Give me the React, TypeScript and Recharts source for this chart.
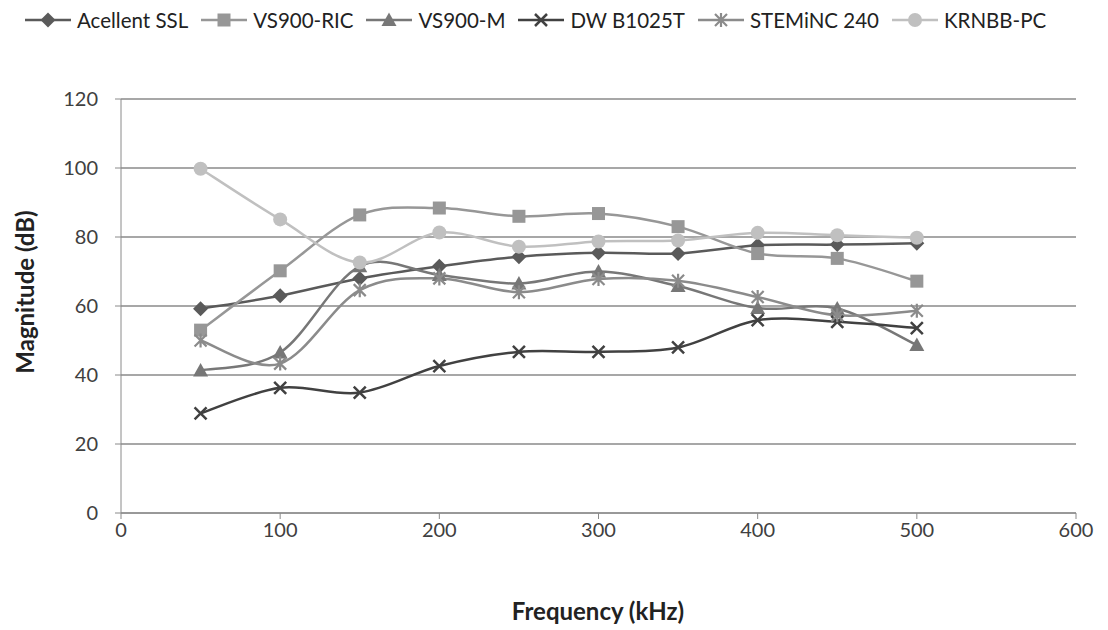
import { LineChart, Line, XAxis, YAxis, CartesianGrid, Label } from 'recharts'

const freqs = [50, 100, 150, 200, 250, 300, 350, 400, 450, 500]
const acellent = [59.2, 63, 68, 71.5, 74.3, 75.4, 75.2, 77.6, 77.8, 78.2]
const vs900ric = [53, 70.2, 86.4, 88.4, 86, 86.8, 83, 75.2, 73.8, 67.2]
const vs900m = [41.3, 46.5, 71.5, 69, 66.5, 70, 65.8, 59.4, 59.3, 48.7]
const dwb1025t = [28.9, 36.3, 34.9, 42.6, 46.7, 46.7, 48, 55.9, 55.4, 53.6]
const steminc = [50, 43.3, 64.6, 68, 64, 67.8, 67.3, 62.6, 57.3, 58.6]
const krnbb = [99.8, 85.1, 72.6, 81.3, 77.2, 78.7, 79, 81.2, 80.5, 79.8]
const xTicks = [0, 100, 200, 300, 400, 500, 600]
const yTicks = [0, 20, 40, 60, 80, 100, 120]

const data = freqs.map((f, i) => ({
  f, acellent: acellent[i], vs900ric: vs900ric[i], vs900m: vs900m[i],
  dwb1025t: dwb1025t[i], steminc: steminc[i], krnbb: krnbb[i],
}))

const series = [
  { key: 'acellent', name: 'Acellent SSL', color: '#5a5a5a', shape: 'diamond' },
  { key: 'vs900ric', name: 'VS900-RIC', color: '#979797', shape: 'square' },
  { key: 'vs900m', name: 'VS900-M', color: '#777777', shape: 'triangle' },
  { key: 'dwb1025t', name: 'DW B1025T', color: '#414141', shape: 'x' },
  { key: 'steminc', name: 'STEMiNC 240', color: '#8b8b8b', shape: 'star' },
  { key: 'krnbb', name: 'KRNBB-PC', color: '#c0c0c0', shape: 'circle' },
]

const FONT = "Lato, 'Open Sans', sans-serif"

// excel-like smoothing (catmull-rom style bezier)
function smoothCurve(context: any) {
  let pts: number[][] = []
  return {
    areaStart() {}, areaEnd() {},
    lineStart() { pts = [] },
    point(x: number, y: number) { pts.push([+x, +y]) },
    lineEnd() {
      if (!pts.length) return
      context.moveTo(pts[0][0], pts[0][1])
      for (let i = 0; i < pts.length - 1; i++) {
        const p0 = pts[i - 1] || pts[i], p1 = pts[i], p2 = pts[i + 1], p3 = pts[i + 2] || pts[i + 1]
        context.bezierCurveTo(
          p1[0] + (p2[0] - p0[0]) / 6, p1[1] + (p2[1] - p0[1]) / 6,
          p2[0] - (p3[0] - p1[0]) / 6, p2[1] - (p3[1] - p1[1]) / 6,
          p2[0], p2[1])
      }
    },
  }
}

function Marker({ cx, cy, shape, color }: any) {
  if (cx == null || cy == null) return null
  switch (shape) {
    case 'diamond':
      return <path d={`M${cx},${cy - 7.5}L${cx + 7.5},${cy}L${cx},${cy + 7.5}L${cx - 7.5},${cy}Z`} fill={color} />
    case 'square':
      return <rect x={cx - 6.5} y={cy - 6.5} width={13} height={13} fill={color} />
    case 'triangle':
      return <path d={`M${cx},${cy - 7.5}L${cx + 7.5},${cy + 6}L${cx - 7.5},${cy + 6}Z`} fill={color} />
    case 'circle':
      return <circle cx={cx} cy={cy} r={7} fill={color} />
    case 'x':
      return <path d={`M${cx - 6},${cy - 6}L${cx + 6},${cy + 6}M${cx - 6},${cy + 6}L${cx + 6},${cy - 6}`} stroke={color} strokeWidth={2.5} fill="none" />
    case 'star':
      return <path d={`M${cx - 6},${cy - 6}L${cx + 6},${cy + 6}M${cx - 6},${cy + 6}L${cx + 6},${cy - 6}M${cx},${cy - 7}L${cx},${cy + 7}`} stroke={color} strokeWidth={2.2} fill="none" />
  }
  return null
}

function ChartLegend() {
  return (
    <div style={{ position: 'absolute', left: 25, top: 8, display: 'flex', gap: 13, fontFamily: FONT, fontSize: 20.5, color: '#222', whiteSpace: 'nowrap' }}>
      {series.map(s => (
        <div key={s.key} style={{ display: 'flex', alignItems: 'center', gap: 6 }}>
          <svg width={46} height={20}>
            <line x1={0} y1={10} x2={46} y2={10} stroke={s.color} strokeWidth={2.5} />
            <Marker cx={23} cy={10} shape={s.shape} color={s.color} />
          </svg>
          <span>{s.name}</span>
        </div>
      ))}
    </div>
  )
}

const tickStyle = { fill: '#404040', fontSize: 20, fontFamily: FONT }

export default function App() {
  return (
    <div style={{ position: 'absolute', left: 0, top: 0, width: 1108, height: 630, background: '#fff' }}>
      <LineChart width={1108} height={630} data={data} margin={{ top: 99, right: 32, bottom: 0, left: 0 }}>
        <CartesianGrid vertical={false} stroke="#8a8a8a" strokeWidth={1.3} />
        <XAxis dataKey="f" type="number" domain={[0, 600]} ticks={xTicks} height={117}
          stroke="#8a8a8a" tickSize={6} tickMargin={4} tick={tickStyle}>
          <Label content={() => (
            <text x={598} y={610} textAnchor="middle" dominantBaseline="central"
              style={{ fontFamily: FONT, fontSize: 24, fontWeight: 700, fill: '#222' }}>Frequency (kHz)</text>
          )} />
        </XAxis>
        <YAxis type="number" domain={[0, 120]} ticks={yTicks} width={121}
          stroke="#8a8a8a" tickSize={6} tickMargin={17} tick={tickStyle}>
          <Label content={() => (
            <text x={24} y={292} transform="rotate(-90, 24, 292)" textAnchor="middle" dominantBaseline="central"
              style={{ fontFamily: FONT, fontSize: 24, fontWeight: 700, fill: '#222' }}>Magnitude (dB)</text>
          )} />
        </YAxis>
        {series.map(s => (
          <Line key={s.key} dataKey={s.key} name={s.name} type={smoothCurve as any}
            stroke={s.color} strokeWidth={2.5} isAnimationActive={false}
            dot={(p: any) => <Marker key={p.index} cx={p.cx} cy={p.cy} shape={s.shape} color={s.color} />}
            activeDot={false} />
        ))}
      </LineChart>
      <ChartLegend />
    </div>
  )
}
